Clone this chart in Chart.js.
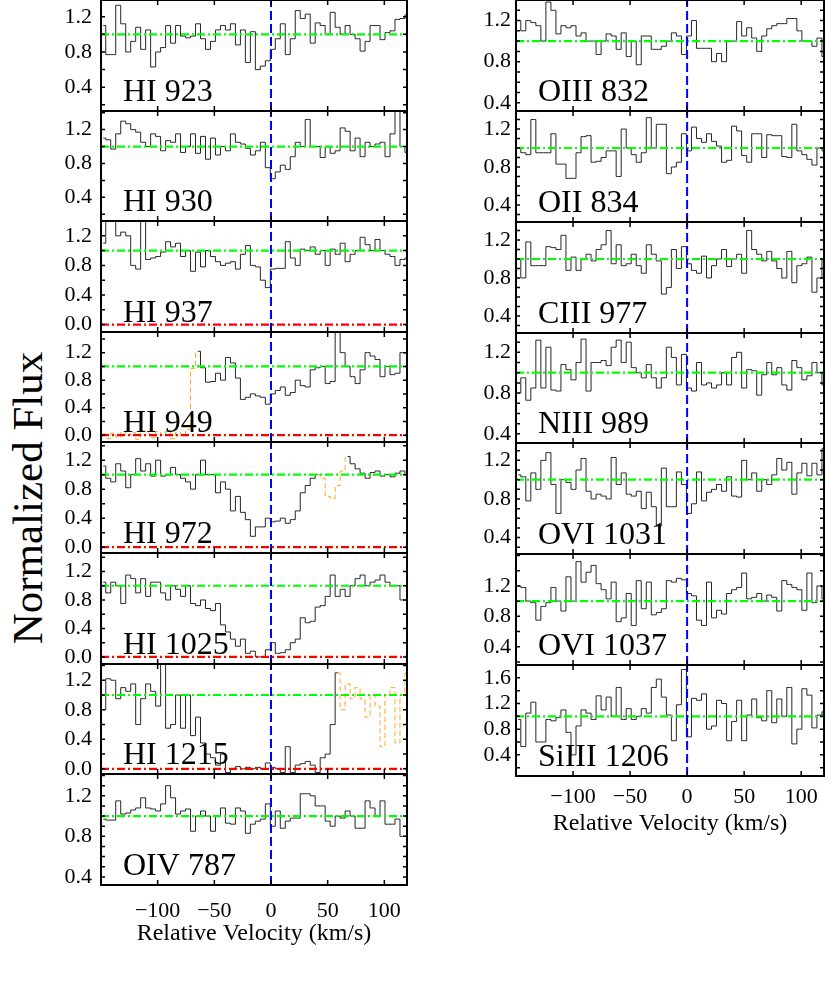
<!DOCTYPE html>
<html>
<head>
<meta charset="utf-8">
<title>Normalized Flux vs Relative Velocity</title>
<script src="https://cdn.jsdelivr.net/npm/chart.js@4.4.1/dist/chart.umd.min.js"></script>
<style>
  body { margin: 0; background: #fff; }
  #figure { position: relative; width: 830px; height: 997px; overflow: hidden; background: #fff; }
  #figure canvas { position: absolute; }
  #ytitle {
    position: absolute; left: -172px; top: 476px; width: 400px; height: 44px;
    line-height: 44px; font-size: 43px; font-family: "Liberation Serif", "Times New Roman", serif;
    text-align: center; color: #000; white-space: nowrap; transform: rotate(-90deg);
  }
</style>
</head>
<body>
<div id="figure">
  <div id="ytitle">Normalized Flux</div>
</div>
<script>
// Velocity grid (bin centres, km/s) shared by all spectra
const velocity = [
  -148, -143.6, -139.2, -134.8, -130.4, -126, -121.6, -117.2, -112.8, -108.4,
  -104, -99.6, -95.2, -90.8, -86.4, -82, -77.6, -73.2, -68.8, -64.4,
  -60, -55.6, -51.2, -46.8, -42.4, -38, -33.6, -29.2, -24.8, -20.4,
  -16, -11.6, -7.2, -2.8, 1.6, 6, 10.4, 14.8, 19.2, 23.6,
  28, 32.4, 36.8, 41.2, 45.6, 50, 54.4, 58.8, 63.2, 67.6,
  72, 76.4, 80.8, 85.2, 89.6, 94, 98.4, 102.8, 107.2, 111.6,
  116, 120.4,
];
const velocityTicks = [-100, -50, 0, 50, 100];

// Normalized flux, one array per transition
const fluxHI923 = [
  1.1, 0.77, 0.77, 1.33, 1.12, 0.8, 0.92, 1.08, 0.83, 1.05,
  0.63, 0.8, 0.85, 1.1, 0.9, 1.1, 0.98, 0.96, 0.98, 1.12,
  0.95, 0.83, 0.92, 1.05, 1.1, 1.05, 1.12, 0.88, 1.05, 0.68,
  1.03, 0.6, 0.64, 0.7, 0.83, 0.95, 1.12, 0.77, 0.95, 1.27,
  1.18, 1.23, 0.9, 1.13, 1.1, 1.0, 1.25, 1.08, 1.0, 1.1,
  1.0, 0.95, 0.81, 0.92, 1.1, 1.1, 0.94, 1.02, 1.04, 1.17,
  1.18, 1.22,
];
const fluxHI930 = [
  1.1, 1.08, 0.97, 1.15, 1.3, 1.27, 1.2, 1.17, 1.05, 1.0,
  1.15, 1.12, 0.95, 1.07, 1.05, 1.15, 0.93, 1.0, 1.15, 0.92,
  1.12, 0.85, 1.1, 0.9, 1.0, 0.95, 1.15, 1.05, 1.03, 0.98,
  0.9, 0.95, 1.05, 0.75, 0.62, 0.7, 0.78, 0.73, 0.88, 1.05,
  1.0, 1.32, 1.0, 1.0, 0.87, 1.0, 0.92, 0.95, 1.22, 1.18,
  0.95, 1.1, 0.88, 1.05, 1.0, 1.03, 1.05, 0.88, 1.15, 1.42,
  1.0, 0.93,
];
const fluxHI937 = [
  1.1, 1.45, 1.45, 1.2, 1.25, 1.2, 0.8, 0.75, 1.45, 0.88,
  0.9, 0.92, 0.98, 1.12, 1.05, 1.1, 0.92, 1.0, 0.72, 0.98,
  0.78, 1.0, 0.92, 0.85, 0.8, 0.83, 0.85, 0.75, 0.95, 1.07,
  0.8, 0.78, 0.6, 0.5, 0.75, 0.76, 0.76, 1.12, 0.9, 0.8,
  1.02, 1.0, 1.05, 0.95, 1.0, 0.8, 1.02, 0.95, 1.1, 0.85,
  0.95, 1.0, 1.18, 1.08, 1.0, 1.15, 1.0, 0.95, 0.92, 0.8,
  0.88, 0.9,
];
const fluxHI949 = [
  0.02, -0.05, 0.03, -0.03, 0.05, 0.0, 0.04, -0.06, 0.06, 0.02,
  -0.04, 0.05, 0.0, 0.06, -0.05, 0.04, 0.0, 0.08, 0.97, 1.22,
  0.98, 0.77, 0.78, 0.9, 0.8, 1.13, 1.05, 0.83, 0.52, 0.55,
  0.6, 0.57, 0.55, 0.45, 0.6, 0.65, 0.7, 0.58, 0.62, 0.8,
  0.72, 0.7, 0.95, 0.98, 1.0, 0.75, 0.78, 1.5, 1.2, 1.0,
  0.85, 0.75, 0.95, 1.2, 1.15, 1.1, 0.85, 1.0, 0.88, 0.9,
  1.2, 1.2,
];
const fluxHI972 = [
  1.12, 0.95, 0.9, 1.15, 1.05, 0.82, 1.0, 1.22, 1.05, 1.15,
  0.98, 1.2, 0.98, 1.0, 1.1, 1.0, 0.95, 0.9, 0.8, 1.0,
  1.2, 1.0, 1.0, 0.75, 0.9, 0.8, 0.5, 0.7, 0.48, 0.38,
  0.15, 0.28, 0.28, 0.4, 0.35, 0.36, 0.4, 0.33, 0.38, 0.5,
  0.75, 0.85, 0.95, 1.0, 0.95, 0.7, 0.67, 0.85, 1.05, 1.25,
  1.15, 1.08, 1.02, 0.95, 1.03, 1.05, 0.98, 1.0, 0.97, 1.02,
  1.05, 1.0,
];
const fluxHI1025 = [
  1.05, 0.9, 1.05, 1.0, 0.75, 1.15, 1.1, 0.9, 1.1, 0.85,
  1.05, 1.05, 0.9, 0.8, 1.0, 0.95, 0.85, 1.0, 0.75, 0.72,
  0.8, 0.68, 0.65, 0.75, 0.45, 0.35, 0.25, 0.15, 0.25, 0.05,
  0.08, 0.0, 0.0, 0.1, 0.2, 0.05, 0.06, 0.1, 0.2, 0.25,
  0.55, 0.48, 0.5, 0.7, 0.72, 0.85, 1.15, 0.85, 0.95, 0.85,
  1.0, 1.1, 1.15, 1.0, 1.05, 1.08, 1.15, 1.05, 1.0, 1.0,
  0.8, 0.8,
];
const fluxHI1215 = [
  0.8, 1.22, 1.2, 0.95, 1.1, 1.05, 1.15, 0.6, 0.95, 1.15,
  1.05, 0.85, 1.42, 0.55, 0.6, 1.0, 0.55, 1.0, 0.45, 0.7,
  0.35, 0.2, 0.15, 0.05, 0.2, -0.05, 0.0, 0.03, 0.0, 0.02,
  0.0, 0.02, 0.0, 0.08, 0.02, 0.0, -0.05, 0.3, -0.05, 0.05,
  0.07, 0.1, 0.05, -0.05, 0.15, 0.2, 0.6, 1.3, 0.8, 1.15,
  0.95, 1.1, 0.95, 0.7, 1.0, 0.85, 0.3, 1.0, 1.1, 0.35,
  1.0, 1.3,
];
const fluxOIV787 = [
  0.97, 0.96, 0.96, 1.15, 1.02, 1.03, 1.06, 1.08, 1.18, 1.08,
  1.07, 1.05, 1.12, 1.3, 1.18, 1.02, 1.05, 1.07, 0.85, 1.0,
  1.05, 1.0, 0.85, 1.0, 1.08, 0.93, 0.92, 1.08, 1.05, 0.83,
  0.92, 0.95, 0.97, 1.12, 0.9, 1.05, 0.88, 0.95, 0.98, 0.98,
  1.22, 1.22, 1.2, 1.1, 1.1, 0.95, 0.9, 1.0, 0.98, 1.05,
  1.0, 0.88, 0.88, 1.15, 1.08, 1.0, 1.15, 0.92, 0.92, 0.97,
  0.8, 0.8,
];
const fluxOIII832 = [
  1.2, 1.1, 1.2, 1.18, 1.15, 1.0, 1.38, 1.3, 1.07, 1.15,
  1.13, 1.15, 1.05, 1.08, 1.0, 1.0, 0.87, 1.0, 1.07, 1.05,
  0.92, 1.08, 0.85, 1.0, 0.77, 1.05, 1.05, 0.92, 0.92, 0.95,
  1.0, 1.08, 1.05, 0.87, 1.05, 1.2, 0.93, 0.93, 0.93, 0.8,
  0.88, 0.8, 1.0, 1.0, 1.19, 1.05, 1.13, 1.03, 0.9, 1.05,
  1.12, 1.15, 1.17, 1.17, 1.22, 1.22, 1.1, 1.0, 1.0, 0.95,
  1.03, 0.85,
];
const fluxOII834 = [
  1.0, 0.95, 0.93, 1.3, 0.95, 0.95, 0.95, 1.15, 0.83, 0.83,
  0.68, 0.68, 0.95, 1.12, 1.13, 0.85, 0.86, 0.9, 0.97, 0.97,
  0.7, 1.2, 1.0, 0.93, 0.85, 0.95, 1.32, 1.0, 1.25, 1.25,
  0.73, 0.8, 0.85, 1.15, 0.97, 1.22, 1.1, 1.06, 1.15, 1.07,
  1.02, 0.85, 0.87, 1.23, 1.18, 0.92, 0.85, 1.15, 1.15, 0.9,
  1.14, 1.13, 1.13, 0.91, 0.9, 1.25, 0.97, 0.93, 0.88, 0.82,
  1.0, 0.97,
];
const fluxCIII977 = [
  1.0, 0.8, 1.18, 0.93, 0.93, 0.93, 1.13, 1.12, 1.1, 1.25,
  0.88, 1.02, 0.88, 1.0, 1.05, 0.98, 1.1, 1.15, 1.3, 0.95,
  1.15, 0.93, 0.95, 1.05, 0.93, 0.85, 1.15, 1.05, 0.98, 0.63,
  0.7, 1.1, 0.9, 1.13, 0.95, 0.88, 0.85, 1.03, 0.8, 0.93,
  1.0, 1.1, 0.92, 1.0, 1.05, 0.85, 1.3, 1.1, 1.05, 0.98,
  1.08, 0.98, 0.9, 0.8, 1.08, 0.75, 0.93, 0.95, 1.02, 0.65,
  0.8, 1.0,
];
const fluxNIII989 = [
  0.8, 0.95, 0.73, 0.85, 1.32, 0.85, 1.25, 0.83, 0.82, 1.08,
  1.03, 0.93, 1.1, 1.33, 0.82, 1.1, 1.1, 1.12, 1.07, 1.25,
  1.32, 1.1, 1.3, 1.05, 1.0, 0.95, 1.08, 0.95, 0.85, 0.95,
  1.25, 1.15, 0.88, 1.18, 0.85, 0.82, 1.1, 0.88, 0.9, 0.85,
  0.88, 1.0, 0.88, 1.15, 1.2, 0.85, 1.03, 1.02, 0.78, 0.98,
  1.1, 0.98, 1.05, 0.88, 0.83, 1.12, 1.05, 0.93, 0.97, 1.1,
  1.0, 0.88,
];
const fluxOVI1031 = [
  1.05, 1.03, 0.78, 1.07, 0.9, 1.2, 1.28, 0.95, 0.65, 1.0,
  0.97, 0.9, 1.1, 1.22, 0.88, 0.8, 0.85, 0.83, 0.8, 1.23,
  0.95, 1.07, 0.85, 0.83, 0.88, 0.7, 0.87, 0.72, 0.52, 1.12,
  0.72, 0.72, 1.08, 0.95, 0.65, 0.75, 1.08, 0.78, 0.87, 0.9,
  0.95, 0.88, 1.03, 0.83, 0.82, 1.2, 1.0, 1.07, 0.88, 1.0,
  0.95, 1.05, 1.22, 1.1, 1.18, 0.85, 1.07, 1.17, 1.04, 1.17,
  1.05, 1.32,
];
const fluxOVI1037 = [
  1.2, 1.18, 1.0, 0.98, 0.75, 0.93, 0.98, 1.18, 1.0, 0.87,
  1.32, 1.0, 1.52, 1.25, 1.38, 1.47, 1.23, 1.15, 1.03, 1.25,
  0.73, 0.78, 1.1, 0.68, 1.27, 0.9, 1.25, 0.82, 0.85, 0.9,
  1.27, 1.25, 1.3, 1.28, 1.1, 1.07, 0.75, 0.68, 1.25, 0.78,
  0.88, 0.83, 1.1, 1.15, 1.18, 1.37, 1.03, 1.05, 1.1, 1.0,
  1.08, 1.05, 0.87, 1.27, 1.22, 1.18, 1.15, 0.88, 1.37, 0.98,
  1.2, 1.03,
];
const fluxSiIII1206 = [
  0.95, 0.53, 1.05, 1.22, 0.6, 0.6, 0.95, 0.93, 0.98, 1.1,
  0.75, 0.4, 0.85, 1.1, 1.05, 0.95, 1.32, 1.1, 1.3, 1.0,
  1.45, 0.95, 1.12, 0.95, 1.0, 1.12, 1.05, 1.45, 1.58, 1.3,
  1.02, 0.62, 1.18, 1.73, 0.68, 1.28, 1.25, 1.35, 0.8, 0.85,
  1.25, 1.2, 0.62, 0.92, 1.25, 0.62, 1.02, 1.27, 0.98, 0.93,
  1.4, 0.9, 1.27, 1.0, 1.45, 0.57, 0.8, 1.43, 1.33, 0.82,
  1.02, 1.07,
];

// Velocity ranges blended with other absorption (drawn dashed orange)
const blendHI949 = [-150, -64.4];
const blendHI972 = [41.2, 67.6];
const blendHI1215 = [58.8, 130];

const leftPanels = [
  { label: "HI 923", flux: fluxHI923, yMin: 0.13, yMax: 1.39, yTicks: [0.4, 0.8, 1.2] },
  { label: "HI 930", flux: fluxHI930, yMin: 0.12, yMax: 1.42, yTicks: [0.4, 0.8, 1.2] },
  { label: "HI 937", flux: fluxHI937, yMin: -0.1, yMax: 1.4, yTicks: [0, 0.4, 0.8, 1.2], zeroLine: true },
  { label: "HI 949", flux: fluxHI949, yMin: -0.1, yMax: 1.5, yTicks: [0, 0.4, 0.8, 1.2], zeroLine: true, blend: blendHI949 },
  { label: "HI 972", flux: fluxHI972, yMin: -0.08, yMax: 1.45, yTicks: [0, 0.4, 0.8, 1.2], zeroLine: true, blend: blendHI972 },
  { label: "HI 1025", flux: fluxHI1025, yMin: -0.1, yMax: 1.46, yTicks: [0, 0.4, 0.8, 1.2], zeroLine: true },
  { label: "HI 1215", flux: fluxHI1215, yMin: -0.07, yMax: 1.42, yTicks: [0, 0.4, 0.8, 1.2], zeroLine: true, blend: blendHI1215 },
  { label: "OIV 787", flux: fluxOIV787, yMin: 0.32, yMax: 1.415, yTicks: [0.4, 0.8, 1.2] },
];
const rightPanels = [
  { label: "OIII 832", flux: fluxOIII832, yMin: 0.32, yMax: 1.4, yTicks: [0.4, 0.8, 1.2] },
  { label: "OII 834", flux: fluxOII834, yMin: 0.22, yMax: 1.39, yTicks: [0.4, 0.8, 1.2] },
  { label: "CIII 977", flux: fluxCIII977, yMin: 0.22, yMax: 1.39, yTicks: [0.4, 0.8, 1.2] },
  { label: "NIII 989", flux: fluxNIII989, yMin: 0.31, yMax: 1.39, yTicks: [0.4, 0.8, 1.2] },
  { label: "OVI 1031", flux: fluxOVI1031, yMin: 0.23, yMax: 1.38, yTicks: [0.4, 0.8, 1.2] },
  { label: "OVI 1037", flux: fluxOVI1037, yMin: 0.16, yMax: 1.62, yTicks: [0.4, 0.8, 1.2] },
  { label: "SiIII 1206", flux: fluxSiIII1206, yMin: 0.07, yMax: 1.8, yTicks: [0.4, 0.8, 1.2, 1.6] },
];

// Column geometry (pixels)
const columns = [
  { panels: leftPanels, left: 101, width: 306, panelHeight: 110.6, yLabelPad: 9, xLabelPad: 13, titlePad: 7 },
  { panels: rightPanels, left: 516, width: 308, panelHeight: 110.86, yLabelPad: 5, xLabelPad: 8, titlePad: 8 },
];
const PAD = 4;
const YW = 80;
const XH = 70;
const SERIF = '"Liberation Serif", "Times New Roman", serif';

Chart.defaults.font.family = SERIF;
Chart.defaults.color = "#000";

// Frame, inward ticks and the line label, drawn IDL style
const framePlugin = {
  id: "frame",
  afterDatasetsDraw(chart, args, opts) {
    const { ctx, chartArea: area } = chart;
    const xs = chart.scales.x;
    const ys = chart.scales.y;
    ctx.save();
    ctx.strokeStyle = "#000";
    ctx.lineWidth = 1.5;
    ctx.beginPath();
    velocityTicks.forEach((v) => {
      const px = xs.getPixelForValue(v);
      ctx.moveTo(px, area.top);
      ctx.lineTo(px, area.top + 5);
      ctx.moveTo(px, area.bottom);
      ctx.lineTo(px, area.bottom - 5);
    });
    const step = opts.minorStep;
    const first = Math.ceil(ys.min / step - 1e-6);
    const last = Math.floor(ys.max / step + 1e-6);
    for (let k = first; k <= last; k++) {
      const py = ys.getPixelForValue(k * step);
      ctx.moveTo(area.left, py);
      ctx.lineTo(area.left + 4, py);
      ctx.moveTo(area.right, py);
      ctx.lineTo(area.right - 4, py);
    }
    ctx.stroke();
    ctx.lineWidth = 2;
    ctx.strokeRect(area.left, area.top, area.right - area.left, area.bottom - area.top);
    ctx.fillStyle = "#000";
    ctx.font = "32px " + SERIF;
    ctx.textAlign = "left";
    ctx.textBaseline = "alphabetic";
    ctx.fillText(opts.label, area.left + 22, area.bottom - 10);
    ctx.restore();
  },
};

function formatVelocity(v) {
  return v < 0 ? "\u2212" + Math.abs(v) : String(v);
}

function hline(y) {
  return [{ x: -150, y: y }, { x: 120, y: y }];
}

function buildPanel(column, panel, k) {
  const figure = document.getElementById("figure");
  const top = Math.round(k * column.panelHeight);
  const bottom = Math.round((k + 1) * column.panelHeight);
  const isLast = k === column.panels.length - 1;

  const canvas = document.createElement("canvas");
  canvas.width = YW + column.width + PAD;
  canvas.height = PAD + (bottom - top) + (isLast ? XH : PAD);
  canvas.style.left = column.left - YW + "px";
  canvas.style.top = top - PAD + "px";
  figure.appendChild(canvas);

  const blend = panel.blend;
  const inBlend = (v) => blend && v >= blend[0] - 0.01 && v <= blend[1] + 0.01;
  const outBlend = (v) => !blend || v <= blend[0] + 0.01 || v >= blend[1] - 0.01;

  const datasets = [
    {
      data: [{ x: 0, y: panel.yMin }, { x: 0, y: panel.yMax }],
      borderColor: "#0000ff", borderWidth: 2, borderDash: [9, 4], order: 0,
    },
    {
      data: hline(1),
      borderColor: "#00ff00", borderWidth: 2.2, borderDash: [8, 3, 2, 3], order: 1,
    },
    {
      data: velocity.map((v, i) => ({ x: v, y: outBlend(v) ? panel.flux[i] : null })),
      borderColor: "#262626", borderWidth: 1, stepped: "middle", order: 2,
    },
  ];
  if (blend) {
    datasets.push({
      data: velocity.map((v, i) => ({ x: v, y: inBlend(v) ? panel.flux[i] : null })),
      borderColor: "#ffa520", borderWidth: 1, borderDash: [5, 3], stepped: "middle", order: 3,
    });
  }
  if (panel.zeroLine) {
    datasets.push({
      data: hline(0),
      borderColor: "#ff0000", borderWidth: 2.2, borderDash: [8, 3, 2, 3], order: 1,
    });
  }
  datasets.forEach((d) => {
    d.pointRadius = 0;
    d.fill = false;
    d.spanGaps = false;
  });

  const pxPerUnit = (bottom - top) / (panel.yMax - panel.yMin);

  new Chart(canvas, {
    type: "line",
    data: { datasets: datasets },
    options: {
      responsive: false,
      animation: false,
      devicePixelRatio: 1,
      events: [],
      layout: { padding: { top: PAD, right: PAD, bottom: isLast ? 0 : PAD, left: 0 } },
      plugins: {
        legend: { display: false },
        tooltip: { enabled: false },
        frame: { label: panel.label, minorStep: pxPerUnit > 90 ? 0.1 : 0.2 },
      },
      scales: {
        x: {
          type: "linear",
          min: -150,
          max: 120,
          display: isLast,
          grid: { display: false, drawTicks: false },
          border: { display: false },
          afterBuildTicks: (s) => {
            s.ticks = velocityTicks.map((v) => ({ value: v }));
          },
          afterFit: (s) => {
            if (isLast) s.height = XH;
            s.paddingLeft = 0;
            s.paddingRight = 0;
          },
          ticks: {
            font: { size: 22 },
            padding: column.xLabelPad,
            maxRotation: 0,
            autoSkip: false,
            callback: formatVelocity,
          },
          title: {
            display: true,
            text: "Relative Velocity (km/s)",
            font: { size: 24 },
            padding: { top: 0, bottom: column.titlePad },
          },
        },
        y: {
          type: "linear",
          min: panel.yMin,
          max: panel.yMax,
          grid: { display: false, drawTicks: false },
          border: { display: false },
          afterBuildTicks: (s) => {
            s.ticks = panel.yTicks.map((v) => ({ value: v }));
          },
          afterFit: (s) => {
            s.width = YW;
            s.paddingTop = 0;
            s.paddingBottom = 0;
          },
          ticks: {
            font: { size: 22 },
            padding: column.yLabelPad,
            callback: (v) => Number(v).toFixed(1),
          },
        },
      },
    },
    plugins: [framePlugin],
  });
}

columns.forEach((column) => {
  column.panels.forEach((panel, k) => buildPanel(column, panel, k));
});
</script>
</body>
</html>
